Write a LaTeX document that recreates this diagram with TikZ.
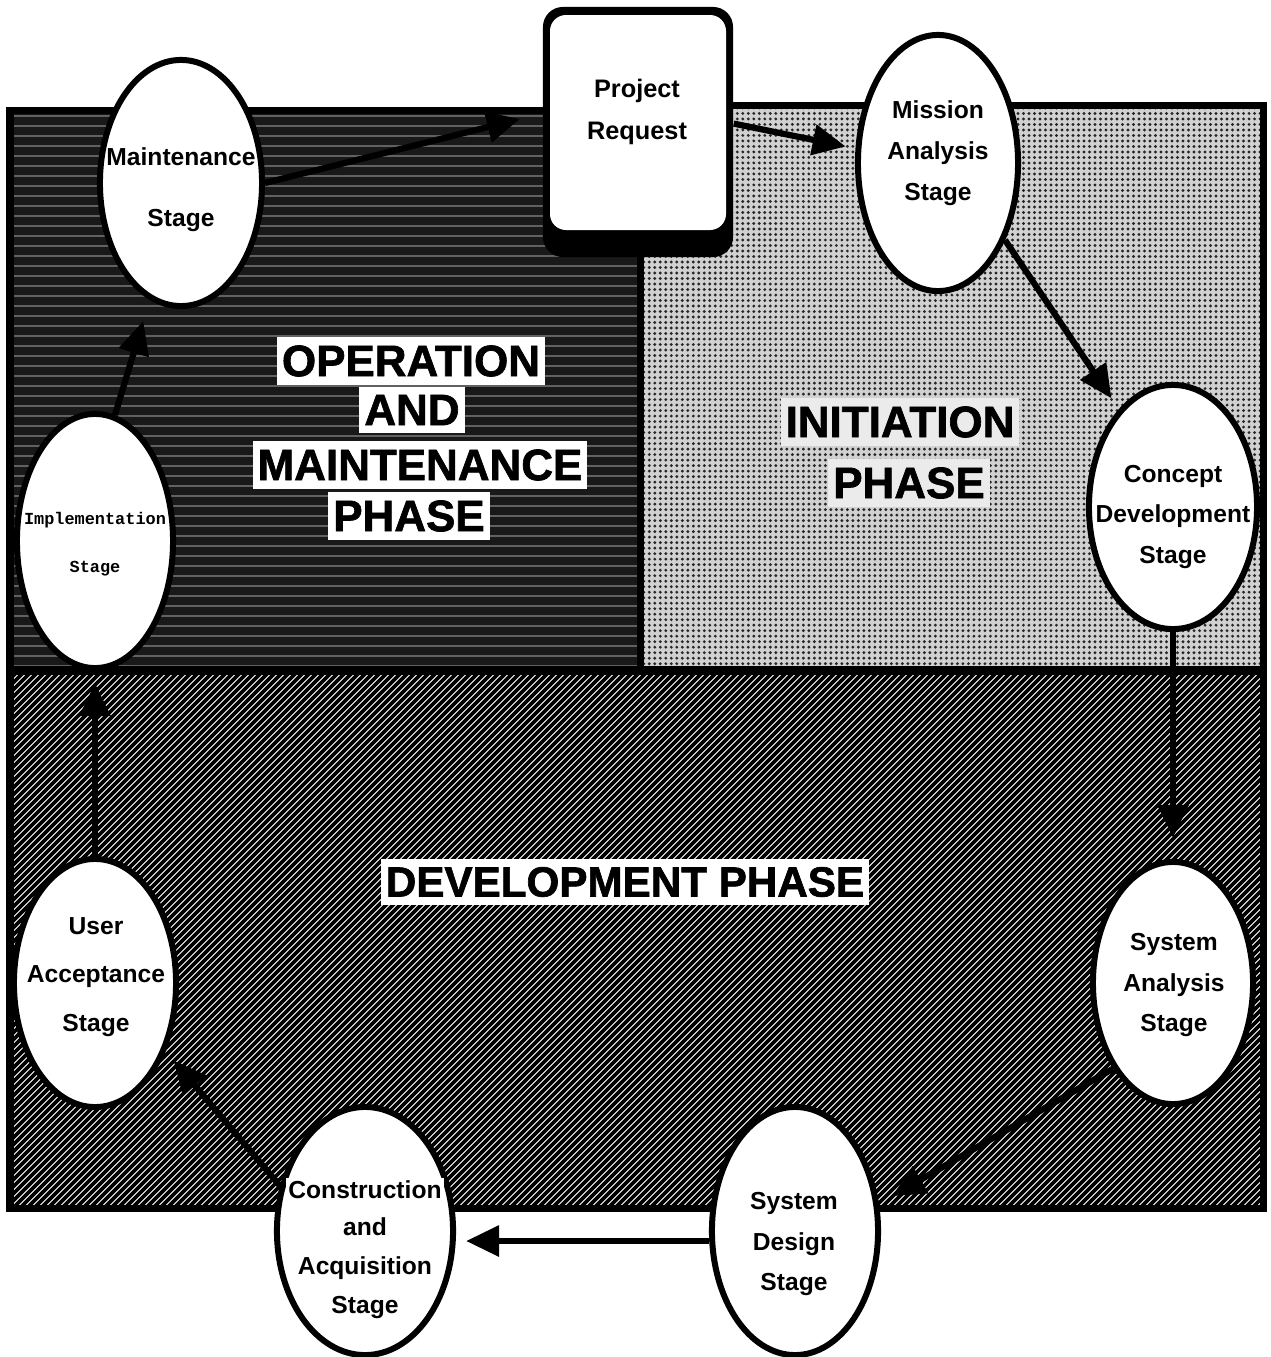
\documentclass[tikz,border=0pt]{standalone}
\usepackage{fontspec}
\setmainfont{Liberation Sans}
\newfontfamily\phasefont{Liberation Sans}[FakeBold=1.5]
\newfontfamily\implfont{Liberation Mono}
\usetikzlibrary{shapes.geometric, arrows.meta, patterns.meta}

\begin{document}
\begin{tikzpicture}[x=0.01cm, y=-0.01cm,
  stage/.style={ellipse, draw=black, line width=0.06cm, fill=white, inner sep=0pt},
  stagetext/.style={align=center, inner sep=0pt, font=\fontsize{7}{#1}\selectfont\bfseries},
  stagetext/.default=11.4,
  phase/.style={fill=white, inner xsep=0.05cm, inner ysep=0.08cm,
    font=\fontsize{12.5}{14}\phasefont\bfseries},
  arr/.style={line width=0.062cm, -{Triangle[length=0.33cm, width=0.30cm]}},
  frame/.style={line width=0.07cm, line cap=rect},
]
% canvas
\fill[white] (0,0) rectangle (1271,1357);
\useasboundingbox (0,0) rectangle (1271,1357);

% operation and maintenance panel: dark banded tone
\fill[black!90] (10,110) rectangle (640,670);
\foreach \yy in {116,126,...,666}
  \draw[line width=0.025cm, black!62] (10,\yy) -- (640,\yy);

% initiation panel: dotted screen
\fill[black!18] (640,105) rectangle (1263,670);
\fill[pattern={Dots[distance=0.055cm, radius=0.016cm]}, pattern color=black!85]
  (640,105) rectangle (1263,670);

% development panel: diagonal hatching
\begin{scope}
  \clip (10,670) rectangle (1263,1208);
  \fill[white] (10,670) rectangle (1263,1208);
  \foreach \i in {0,...,262}
    \draw[line width=0.036cm] ({\i*7-540},1215) -- ++(560,-560);
\end{scope}

% panel borders
\draw[frame] (543,110) -- (10,110) -- (10,1208) -- (1263,1208) -- (1263,105) -- (733,105);
\draw[line width=0.09cm] (10,670) -- (1263,670);
\draw[frame] (640,257) -- (640,670);

% project request card with heavy lower edge
\node[fill=black, rounded corners=0.2cm, minimum width=1.9cm, minimum height=2.5cm,
  inner sep=0pt] (req) at (638,132) {};
\fill[white, rounded corners=0.16cm] (550,15) rectangle (726,230);
\node[align=center, inner sep=0pt, font=\fontsize{7.2}{12}\selectfont\bfseries] (req-t)
  at (637,112) {Project\\Request};

% phase titles
\node[phase] (op1) at (411,361) {OPERATION};
\node[phase] (op2) at (412,410) {AND};
\node[phase] (op3) at (420,465) {MAINTENANCE};
\node[phase] (op4) at (409,516) {PHASE};
\node[phase, fill=black!8] (in1) at (900,422) {INITIATION};
\node[phase, fill=black!8] (in2) at (909,483) {PHASE};
\node[phase, font=\fontsize{12}{14}\phasefont\bfseries] (dev) at (625,882)
  {DEVELOPMENT PHASE};

% stages
\node[stage, minimum width=1.62cm, minimum height=2.46cm] (maint)   at (181,183)  {};
\node[stage, minimum width=1.60cm, minimum height=2.56cm] (mission) at (938,163)  {};
\node[stage, minimum width=1.68cm, minimum height=2.44cm] (concept) at (1173,507) {};
\node[stage, minimum width=1.56cm, minimum height=2.54cm] (impl)    at (95,541)   {};
\node[stage, minimum width=1.62cm, minimum height=2.48cm] (useracc) at (95,983)   {};
\node[stage, minimum width=1.60cm, minimum height=2.42cm] (sysan)   at (1173,983) {};
\node[stage, minimum width=1.66cm, minimum height=2.48cm] (design)  at (795,1231) {};
\node[stage, minimum width=1.76cm, minimum height=2.48cm] (constr)  at (365,1231) {};

% flow of the life cycle
\draw[arr, shorten >=0.23cm] (maint.east) -- (req.169);
\draw[arr, shorten >=0.10cm] (req.5) -- (mission.170);
\draw[arr, shorten >=0.13cm] (mission.-49) -- (concept.119);
\draw[arr, shorten >=0.21cm] (concept.south) -- (sysan.north);
\draw[arr, shorten >=0.15cm] (sysan.235) -- (design.18);
\draw[arr, shorten >=0.10cm] ([yshift=-0.1cm]design.west) -- ([yshift=-0.1cm]constr.east);
\draw[arr, shorten >=0.12cm] (constr.152) -- (useracc.-44);
\draw[arr, shorten >=0.12cm] (useracc.north) -- (impl.south);
\draw[arr, shorten >=0.22cm] (impl.81) -- (maint.255);

% stage names
\node[stagetext=17.4] (maint-t)   at (181,190)  {Maintenance\\Stage};
\node[stagetext=11.7] (mission-t) at (938,153)  {Mission\\Analysis\\Stage};
\node[stagetext]      (concept-t) at (1173,517) {Concept\\Development\\Stage};
\node[align=center, inner sep=0pt, font=\fontsize{4.8}{13.7}\selectfont\implfont\bfseries]
  (impl-t) at (95,544) {Implementation\\Stage};
\node[stagetext=13.7] (useracc-t) at (96,977)   {User\\Acceptance\\Stage};
\node[stagetext]      (sysan-t)   at (1174,985) {System\\Analysis\\Stage};
\node[stagetext]      (design-t)  at (794,1244) {System\\Design\\Stage};
\node[stagetext, fill=white, inner xsep=0.02cm, inner ysep=0.03cm]
  (constr-t1) at (365,1190) {Construction};
\node[stagetext=11.1] (constr-t2) at (365,1268) {and\\Acquisition\\Stage};
\end{tikzpicture}
\end{document}
